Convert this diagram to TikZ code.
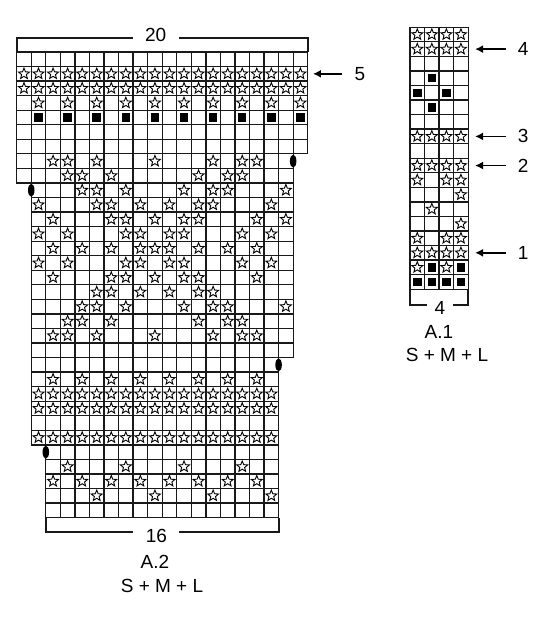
\documentclass[tikz,border=0pt]{standalone}
\usepackage{fontspec}
\setmainfont{Liberation Sans}
\usetikzlibrary{shapes.geometric}
\usetikzlibrary{arrows.meta}

\begin{document}
\begin{tikzpicture}[x=1pt,y=-1pt]
\tikzset{cell/.style={draw=black!90,line width=1.3pt},
  st/.style={star,star points=5,star point ratio=2.3,draw=black,line width=0.9pt,minimum size=11.5pt,inner sep=0pt},
  blk/.style={fill=black,minimum size=8.5pt,inner sep=0pt},
  oval/.style={ellipse,fill=black,minimum width=6.5pt,minimum height=13pt,inner sep=0pt},
  brk/.style={line width=2pt,black!90},
  lbl/.style={font=\fontsize{19}{22}\selectfont,inner sep=0pt},
  num/.style={lbl,fill=white},
  arr/.style={-{Latex[length=8pt,width=8pt]},line width=1.8pt}}
\useasboundingbox (0,0) rectangle (550,620);
% A.2
\begin{scope}[shift={(16.7,52)},x=14.55pt,y=-14.55pt]
\foreach \ra/\rb/\a/\b in {1/7/1/20,8/9/1/19,10/21/2/19,22/27/2/18,28/32/3/18}
  \foreach \r in {\ra,...,\rb}
    \foreach \c in {\a,...,\b}
      \draw[cell] (\c-1,\r-1) rectangle (\c,\r);
\foreach \r/\cl in {2/{1,...,20},3/{1,...,20},4/{2,4,...,20},
    8/{3,4,6,10,14,16,17},9/{4,5,7,13,15,16},10/{5,6,8,12,14,15,19},
    11/{2,6,7,9,11,13,14,18},12/{3,7,8,10,12,13,17,19},13/{2,4,8,9,11,12,16,18},
    14/{3,5,7,9,10,11,13,15,17},15/{2,4,8,9,11,12,16,18},16/{3,7,8,10,12,13,17},
    17/{6,7,9,11,13,14},18/{5,6,8,12,14,15,19},19/{4,5,7,13,15,16},
    20/{3,4,6,10,14,16,17},23/{3,5,...,17},24/{2,...,18},25/{2,...,18},
    27/{2,...,18},29/{4,8,12,16},30/{3,5,...,17},31/{6,10,14,18}}
  \foreach \c in \cl
    \node[st] (s\r-\c) at (\c-0.5,\r-0.5) {};
\foreach \c in {2,4,...,20}
  \node[blk] (b5-\c) at (\c-0.5,4.5) {};
\node[oval] (ov1) at (19,7.5) {};
\node[oval] (ov2) at (1,9.5) {};
\node[oval] (ov3) at (18,21.5) {};
\node[oval] (ov4) at (2,27.5) {};
\draw[brk] (0,0) -- (0,-0.96) -- (20,-0.96) -- (20,0);
\node[num,inner xsep=12.5pt] (w20) at (9.55,-1.15) {20};
\draw[brk] (2,32) -- (2,33) -- (18,33) -- (18,32);
\node[num,inner xsep=12.5pt] (w16) at (9.6,33.25) {16};
\node[lbl] (n5) at (23.59,1.5) {5};
\coordinate (p5) at (20.36,1.5);
\draw[arr] ([xshift=-12pt]n5.west) -- (p5);
\end{scope}
\node[lbl] (a2) at (155,562) {A.2};
\node[lbl] (a2sz) at (162,586) {S + M + L};
% A.1
\begin{scope}[shift={(410,27.3)},x=14.55pt,y=-14.55pt]
\foreach \r in {1,...,18}
  \foreach \c in {1,...,4}
    \draw[cell] (\c-1,\r-1) rectangle (\c,\r);
\foreach \r/\cl in {1/{1,...,4},2/{1,...,4},8/{1,...,4},10/{1,...,4},11/{1,3,4},
    12/{4},13/{2},14/{4},15/{1,3,4},16/{1,...,4},17/{1,3}}
  \foreach \c in \cl
    \node[st] (t\r-\c) at (\c-0.5,\r-0.5) {};
\foreach \r/\cl in {4/{2},5/{1,3},6/{2},17/{2,4},18/{1,...,4}}
  \foreach \c in \cl
    \node[blk] (k\r-\c) at (\c-0.5,\r-0.5) {};
\draw[brk] (0,18) -- (0,19.08) -- (4,19.08) -- (4,18);
\node[num,inner xsep=7.5pt] (w4) at (2.06,19.3) {4};
\foreach \r/\n in {2/4,8/3,10/2,16/1}{
  \node[lbl] (m\n) at (7.77,\r-0.5) {\n};
  \coordinate (q\n) at (4.47,\r-0.5);
  \draw[arr] ([xshift=-12pt]m\n.west) -- (q\n);
}
\end{scope}
\node[lbl] (a1) at (439,332) {A.1};
\node[lbl] (a1sz) at (447,355) {S + M + L};
\end{tikzpicture}
\end{document}
